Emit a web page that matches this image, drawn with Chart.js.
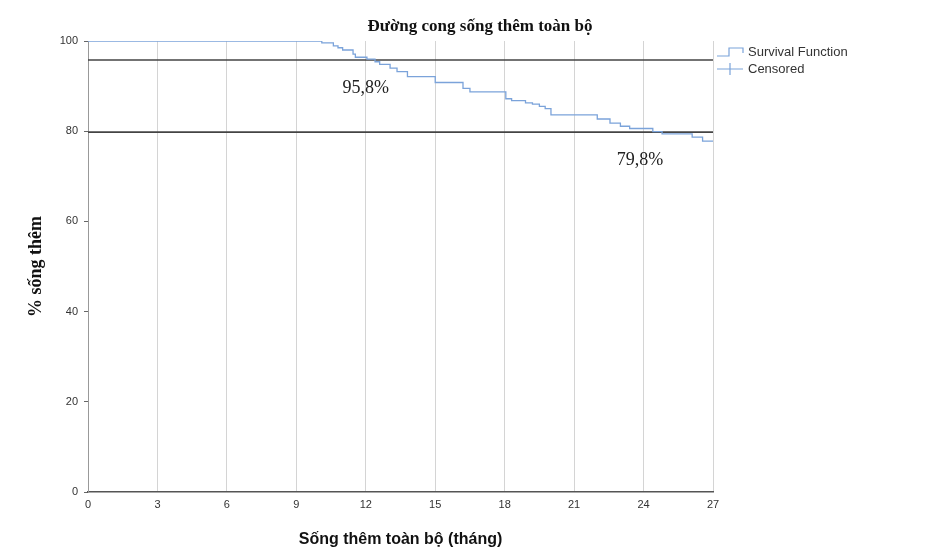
<!DOCTYPE html>
<html>
<head>
<meta charset="utf-8">
<script src="https://cdn.jsdelivr.net/npm/chart.js@4/dist/chart.umd.min.js"></script>
<style>
  html, body { margin: 0; padding: 0; background: #ffffff; }
  #wrap { width: 944px; height: 557px; }
</style>
</head>
<body>
<div id="wrap"><canvas id="km-curve"></canvas></div>
<script>
/* Kaplan-Meier data */
var months   = [0, 10.1, 10.6, 10.8, 11.0, 11.45, 11.55, 12.05, 12.4, 12.6, 13.05, 13.35, 13.8, 15.0, 16.2, 16.5, 18.05, 18.3, 18.9, 19.2, 19.5, 19.75, 20.0, 22.0, 22.55, 23.0, 23.4, 24.4, 24.8, 26.1, 26.55, 27.0];
var survival = [100, 99.6, 98.9, 98.5, 98.0, 97.1, 96.4, 96.0, 95.4, 94.8, 94.0, 93.2, 92.1, 90.8, 89.5, 88.7, 87.2, 86.8, 86.3, 86.0, 85.5, 85.0, 83.6, 82.7, 81.8, 81.1, 80.6, 79.9, 79.4, 78.7, 77.8, 77.8];
var refLevels = [95.8, 79.8];
var refLabels = ["95,8%", "79,8%"];
var xTicks = [0, 3, 6, 9, 12, 15, 18, 21, 24, 27];
var yTicks = [0, 20, 40, 60, 80, 100];
var chartTitle = "Đường cong sống thêm toàn bộ";

var curveColor = "#7ba3da";
var refColor = "#444";

var kmPoints = months.map(function (m, i) { return { x: m, y: survival[i] }; });

var refSets = refLevels.map(function (lv) {
  return {
    label: "ref",
    data: [{ x: xTicks[0], y: lv }, { x: xTicks[xTicks.length - 1], y: lv }],
    borderColor: refColor,
    borderWidth: 1.6,
    pointRadius: 0,
    legend: false
  };
});

/* title centred on the whole picture, like the original export */
var topTitle = {
  id: "topTitle",
  afterDraw: function (chart) {
    var ctx = chart.ctx;
    ctx.save();
    ctx.font = "bold 17px 'Liberation Serif', 'Times New Roman', serif";
    ctx.fillStyle = "#111";
    ctx.textAlign = "center";
    ctx.textBaseline = "middle";
    ctx.fillText(chartTitle, 480, 27);
    ctx.restore();
  }
};

/* legend drawn by hand in the right margin */
var sideLegend = {
  id: "sideLegend",
  afterDraw: function (chart) {
    var ctx = chart.ctx;
    var x0 = 717, y0 = 52, row = 17;
    ctx.save();
    ctx.font = "13px 'Liberation Sans', Arial, sans-serif";
    ctx.fillStyle = "#333";
    ctx.textBaseline = "middle";
    chart.data.datasets.filter(function (d) { return d.legend; }).forEach(function (d, i) {
      var y = y0 + i * row;
      ctx.strokeStyle = d.borderColor;
      ctx.lineWidth = 1.2;
      ctx.beginPath();
      if (d.icon === "step") {
        ctx.moveTo(x0, y + 4);
        ctx.lineTo(x0 + 12, y + 4);
        ctx.lineTo(x0 + 12, y - 4);
        ctx.lineTo(x0 + 26, y - 4);
        ctx.lineTo(x0 + 26, y + 1);
      } else {
        ctx.moveTo(x0, y);
        ctx.lineTo(x0 + 26, y);
        ctx.moveTo(x0 + 13, y - 6);
        ctx.lineTo(x0 + 13, y + 6);
      }
      ctx.stroke();
      ctx.fillText(d.label, x0 + 31, y);
    });
    ctx.restore();
  }
};

/* percent labels under the reference lines */
var refText = {
  id: "refText",
  afterDatasetsDraw: function (chart, args, opts) {
    var ctx = chart.ctx;
    var xs = chart.scales.x, ys = chart.scales.y;
    ctx.save();
    ctx.font = "18px 'Liberation Serif', 'Times New Roman', serif";
    ctx.fillStyle = "#222";
    ctx.textAlign = "center";
    ctx.textBaseline = "middle";
    refLevels.forEach(function (lv, i) {
      ctx.fillText(refLabels[i], xs.getPixelForValue(opts.at[i]), ys.getPixelForValue(lv) + 28);
    });
    ctx.restore();
  }
};

var chart = new Chart(document.getElementById("km-curve"), {
  type: "line",
  data: {
    datasets: [
      {
        label: "Survival Function",
        data: kmPoints,
        borderColor: curveColor,
        borderWidth: 1.3,
        stepped: true,
        pointRadius: 0,
        legend: true,
        icon: "step"
      },
      {
        label: "Censored",
        data: [],
        borderColor: curveColor,
        pointStyle: "cross",
        legend: true,
        icon: "cross"
      }
    ].concat(refSets)
  },
  options: {
    responsive: true,
    maintainAspectRatio: false,
    animation: false,
    layout: { padding: { left: 0, right: 231, top: 41, bottom: 0 } },
    plugins: {
      legend: { display: false },
      tooltip: { enabled: false },
      title: { display: false },
      refText: { at: [12, 23.85] }
    },
    scales: {
      x: {
        type: "linear",
        min: 0,
        max: 27,
        afterBuildTicks: function (s) { s.ticks = xTicks.map(function (v) { return { value: v }; }); },
        afterFit: function (s) { s.height = 65; },
        grid: { color: "#d4d4d4", lineWidth: 1, drawTicks: false },
        border: { color: "#555", width: 1.5 },
        ticks: {
          color: "#333",
          padding: 6,
          font: { family: "'Liberation Sans Narrow', 'Liberation Sans', Arial, sans-serif", size: 11 }
        },
        title: {
          display: true,
          text: "Sống thêm toàn bộ (tháng)",
          color: "#111",
          font: { family: "'Liberation Sans', Arial, sans-serif", size: 16, weight: "bold" },
          padding: { top: 10, bottom: 8 }
        }
      },
      y: {
        min: 0,
        max: 100,
        afterBuildTicks: function (s) { s.ticks = yTicks.map(function (v) { return { value: v }; }); },
        afterFit: function (s) { s.width = 88; },
        grid: { drawOnChartArea: false, tickLength: 4, color: "#666" },
        border: { color: "#999", width: 1 },
        ticks: {
          color: "#333",
          padding: 6,
          font: { family: "'Liberation Sans', Arial, sans-serif", size: 11 }
        },
        title: {
          display: true,
          text: "% sống thêm",
          color: "#111",
          font: { family: "'Liberation Serif', 'Times New Roman', serif", size: 18, weight: "bold" },
          padding: { top: 26, bottom: 24 }
        }
      }
    }
  },
  plugins: [topTitle, sideLegend, refText]
});
</script>
</body>
</html>
